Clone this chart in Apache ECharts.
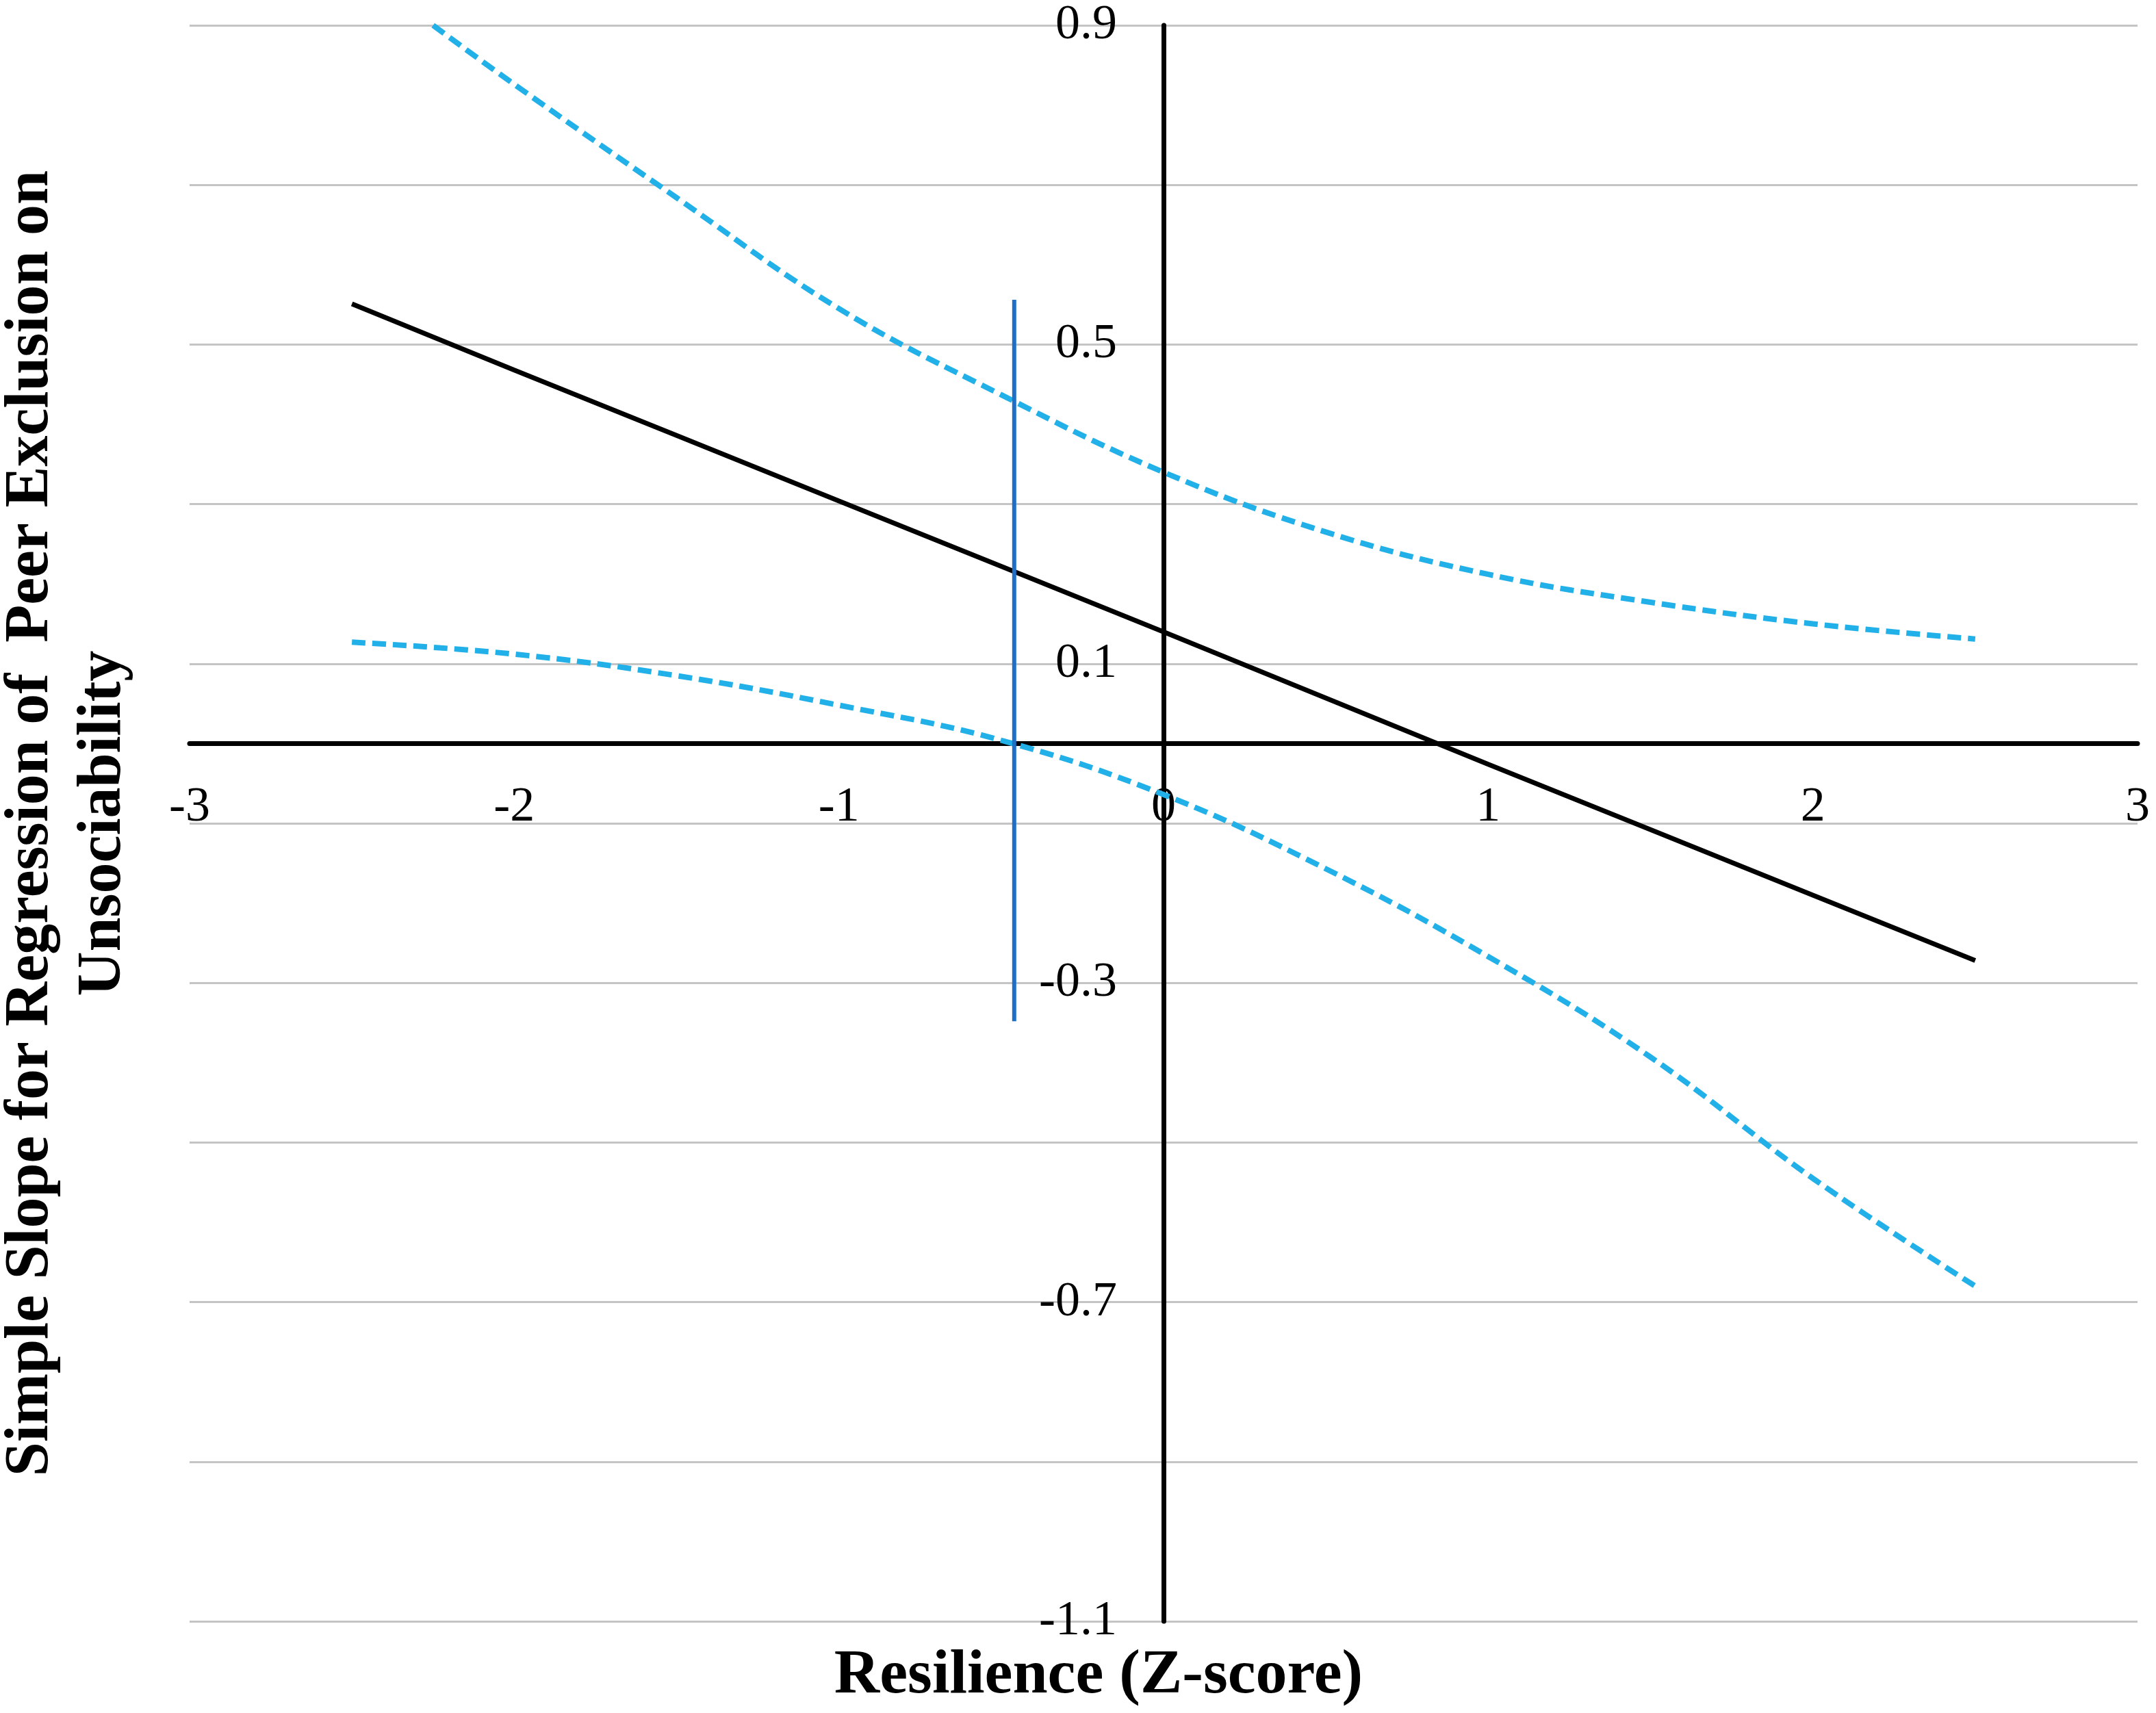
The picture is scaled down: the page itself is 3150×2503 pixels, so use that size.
<!DOCTYPE html>
<html>
<head>
<meta charset="utf-8">
<title>Simple slope of peer exclusion on unsociability</title>
<script src="https://cdn.jsdelivr.net/npm/echarts@6.0.0/dist/echarts.min.js"></script>
<style>
  html, body { margin: 0; padding: 0; background: #fff; }
  #chart { width: 3150px; height: 2503px; }
</style>
</head>
<body>
<div id="chart"></div>
<script>
// values
var xValues = [-2.5, -2, -1.5, -1, -0.5, 0, 0.5, 1, 1.5, 2, 2.5];
var slopeValues = [0.551, 0.468, 0.386, 0.304, 0.222, 0.140, 0.057, -0.026, -0.108, -0.190, -0.272];
var upperX = [-2.25, -2, -1.5, -1, -0.5, 0, 0.5, 1, 1.5, 2, 2.5];
var upperValues = [0.900, 0.826, 0.684, 0.545, 0.437, 0.340, 0.265, 0.212, 0.177, 0.150, 0.131];
var lowerValues = [0.127, 0.112, 0.085, 0.048, 0.004, -0.064, -0.157, -0.267, -0.393, -0.545, -0.680];
var jnX = [-0.46, -0.46];
var jnValues = [0.556, -0.348];
var xTicks = [-3, -2, -1, 0, 1, 2, 3];
var yGridValues = [-1.1, -0.9, -0.7, -0.5, -0.3, -0.1, 0.1, 0.3, 0.5, 0.7, 0.9];
var yLabelValues = [-1.1, -0.7, -0.3, 0.1, 0.5, 0.9];

function pairs(xs, ys) {
  return xs.map(function (x, i) { return [x, ys[i]]; });
}

var serif = "'Liberation Serif', 'Times New Roman', serif";
var chart = echarts.init(document.getElementById('chart'));

// grid edges in px, axes are moved onto the zero lines with offsets
var gridLeft = 277, gridRight = 27, gridTop = 37, gridBottom = 134;
var W = 3150, H = 2503;
var xMin = -3, xMax = 3, yMin = -1.1, yMax = 0.9;
var plotW = W - gridLeft - gridRight, plotH = H - gridTop - gridBottom;
var yAxisOffset = -((0 - xMin) / (xMax - xMin)) * plotW;
var xAxisOffset = -((0 - yMin) / (yMax - yMin)) * plotH;

var option = {
  animation: false,
  backgroundColor: '#fff',
  title: {
    text: 'Resilience (Z-score)',
    left: 1600,
    top: 2398,
    textAlign: 'center',
    textStyle: { fontFamily: serif, fontWeight: 'bold', fontSize: 92, color: '#000' }
  },
  grid: {
    left: gridLeft, right: gridRight, top: gridTop, bottom: gridBottom,
    outerBoundsMode: 'none'
  },
  xAxis: {
    type: 'value',
    min: xMin,
    max: xMax,
    interval: 1,
    position: 'bottom',
    offset: xAxisOffset,
    axisLine: { onZero: false, lineStyle: { color: '#000', width: 7 } },
    axisTick: { show: false },
    splitLine: { show: false },
    axisLabel: {
      customValues: xTicks,
      margin: 58,
      fontFamily: serif,
      fontSize: 72,
      color: '#000'
    }
  },
  yAxis: {
    type: 'value',
    min: yMin,
    max: yMax,
    position: 'left',
    offset: yAxisOffset,
    name: 'Simple Slope for Regression of  Peer Exclusion on\nUnsociability',
    nameLocation: 'middle',
    nameGap: 1495,
    nameMoveOverlap: false,
    nameTextStyle: {
      fontFamily: serif, fontWeight: 'bold', fontSize: 90, lineHeight: 106, color: '#000'
    },
    axisLine: { onZero: false, lineStyle: { color: '#000', width: 7 } },
    axisTick: { show: false, customValues: yGridValues },
    splitLine: { show: true, lineStyle: { color: '#c4c4c4', width: 3 } },
    axisLabel: {
      customValues: yLabelValues,
      margin: 68,
      fontFamily: serif,
      fontSize: 72,
      color: '#000',
      formatter: function (v) { return v.toFixed(1); }
    }
  },
  series: [
    {
      name: 'Upper bound',
      type: 'line',
      data: pairs(upperX, upperValues),
      smooth: 0.4,
      showSymbol: false,
      lineStyle: { color: '#22b0e8', width: 8, type: [20, 10] }
    },
    {
      name: 'Lower bound',
      type: 'line',
      data: pairs(xValues, lowerValues),
      smooth: 0.4,
      showSymbol: false,
      lineStyle: { color: '#22b0e8', width: 8, type: [20, 10] }
    },
    {
      name: 'Simple slope',
      type: 'line',
      data: pairs(xValues, slopeValues),
      showSymbol: false,
      lineStyle: { color: '#000', width: 7 }
    },
    {
      name: 'Region of significance',
      type: 'line',
      data: pairs(jnX, jnValues),
      showSymbol: false,
      z: 5,
      lineStyle: { color: '#1f6fc6', width: 6 }
    }
  ]
};

chart.setOption(option);

window.addEventListener('resize', function () {
  chart.resize();
});
</script>
</body>
</html>
